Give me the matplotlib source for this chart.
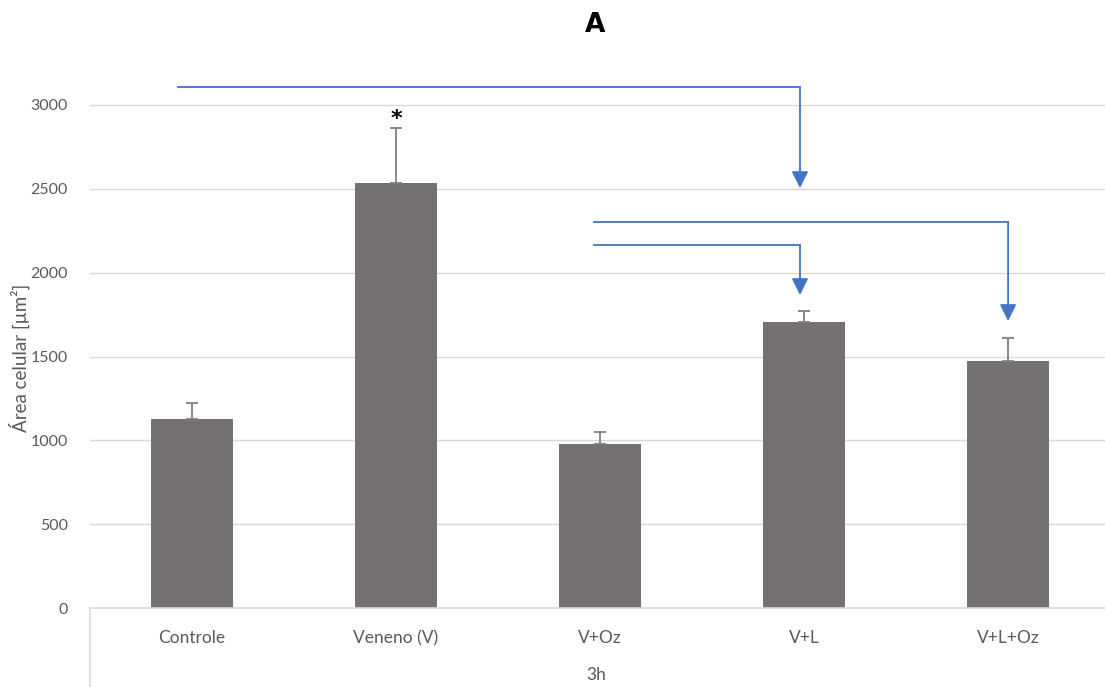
import matplotlib
matplotlib.use("Agg")
import matplotlib.pyplot as plt
from matplotlib.lines import Line2D

categories = ["Controle", "Veneno (V)", "V+Oz", "V+L", "V+L+Oz"]
means = [1130, 2535, 980, 1705, 1475]
errors = [90, 325, 70, 66, 135]
yticks = [0, 500, 1000, 1500, 2000, 2500, 3000]
group_label = "3h"
title = "A"

plt.rcParams['font.family'] = ['Lato', 'DejaVu Sans']

W, H = 1105, 687
fig = plt.figure(figsize=(W / 100, H / 100), dpi=100)
left, right, bottom = 90 / W, 1105 / W, 1 - 608 / H
ymax = 3300
top_px = 608 - ymax * (503 / 3000)
ax = fig.add_axes([left, bottom, right - left, (608 - top_px) / H])

x = list(range(len(categories)))
ax.bar(x, means, width=0.40, color="#767171", zorder=2)
ax.errorbar(x, means, yerr=[[0] * len(errors), errors], fmt="none",
            ecolor="#7f7f7f", elinewidth=1.3, capsize=4, capthick=1.3, zorder=3)

ax.set_xlim(-0.5, 4.475)
ax.set_ylim(0, ymax)
ax.set_yticks(yticks)
ax.set_yticklabels([str(t) for t in yticks], color="#595959", fontsize=11.5)
ax.yaxis.grid(True, color="#d9d9d9", linewidth=1, zorder=0)
ax.set_axisbelow(True)
ax.tick_params(axis="y", length=0, pad=16)
ax.tick_params(axis="x", length=0, pad=16)
ax.set_xticks(x)
ax.set_xticklabels(categories, color="#595959", fontsize=12.5)
for s in ["left", "right", "top"]:
    ax.spines[s].set_visible(False)
ax.spines["bottom"].set_color("#d9d9d9")
ax.spines["bottom"].set_linewidth(1.2)

# multi-level category axis vertical separator
fig.add_artist(Line2D([left, left], [0, bottom], color="#d9d9d9", lw=1.2))
fig.text(596 / W, 1 - 675 / H, group_label, ha="center", va="center",
         color="#595959", fontsize=12.5)

fig.text(19 / W, 1 - 358 / H, "Área celular [µm²]", rotation=90, ha="center",
         va="center", color="#595959", fontsize=13.5)

fig.text(595 / W, 1 - 25 / H, title, ha="center", va="center", fontsize=19,
         fontweight="bold", family="DejaVu Sans")

ax.text(1, 2915, "*", ha="center", va="center", fontsize=16, fontweight="bold",
        color="black", family="DejaVu Sans")

blue = "#4472C4"
arrows = [((-0.07, 3107), (2.98, 2505)),
          ((1.97, 2302), (4.0, 1712)),
          ((1.97, 2165), (2.98, 1867))]
for (x0, y0), (x1, y1) in arrows:
    ax.plot([x0, x1], [y0, y0], color=blue, lw=1.3, clip_on=False, zorder=4)
    ax.annotate("", xy=(x1, y1), xytext=(x1, y0),
                arrowprops=dict(arrowstyle="-|>,head_length=0.5,head_width=0.25",
                                mutation_scale=20, color=blue, lw=1.3,
                                shrinkA=0, shrinkB=0),
                annotation_clip=False, zorder=4)

fig.savefig("out.png", dpi=100)
